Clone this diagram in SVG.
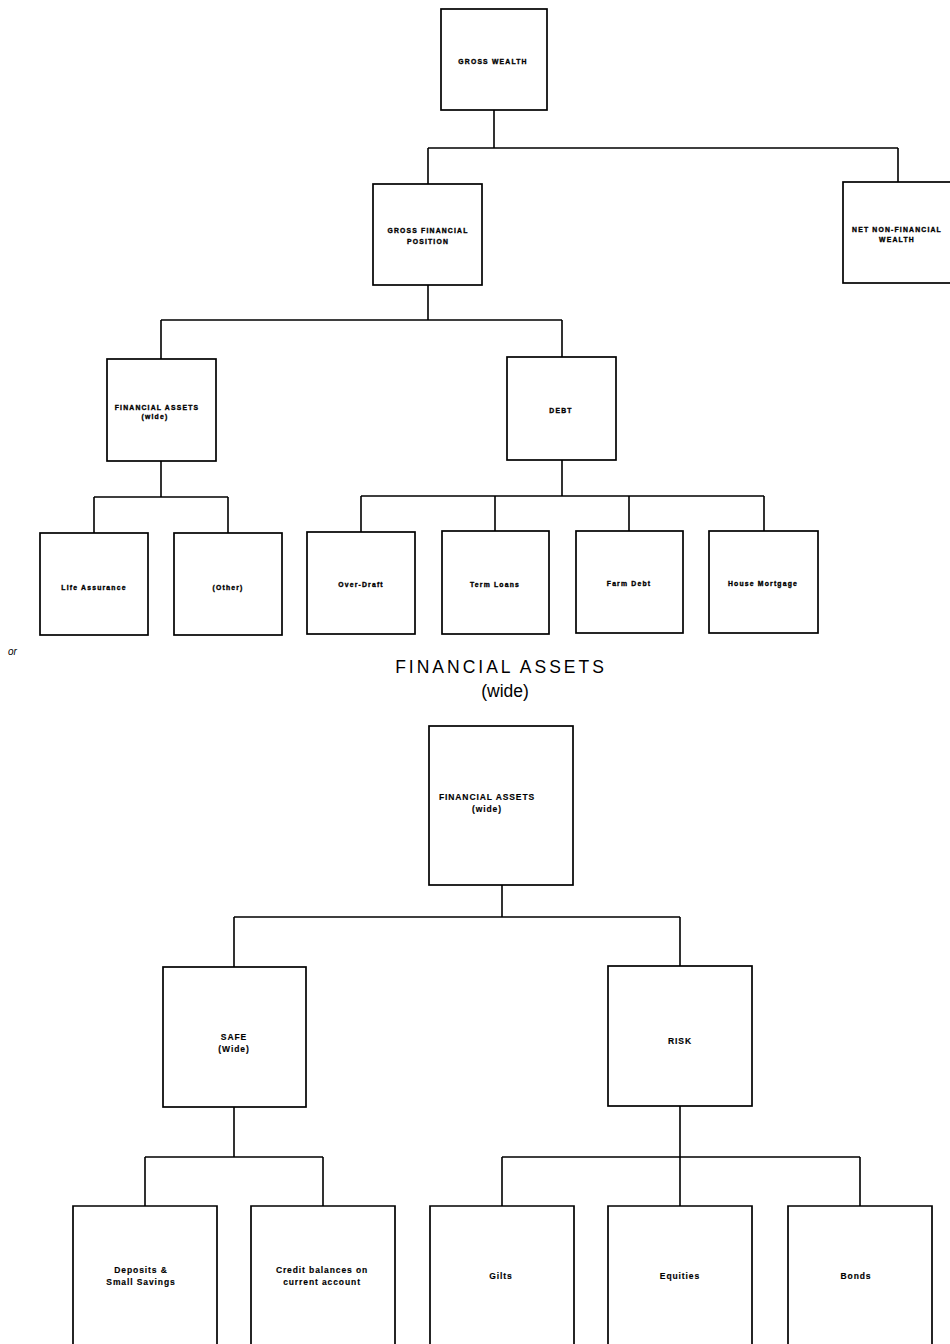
<svg xmlns="http://www.w3.org/2000/svg" width="950" height="1344" viewBox="0 0 950 1344">
<style>
.bg{fill:#ffffff}
.box{fill:#ffffff;stroke:#000;stroke-width:1.7}
.open{fill:none;stroke:#000;stroke-width:1.7}
.conn path{fill:none;stroke:#000;stroke-width:1.6}
.s{font-family:"Liberation Sans",Arial,sans-serif;font-weight:bold;font-size:6.8px;letter-spacing:1.2px;text-anchor:middle;fill:#000;stroke:#000;stroke-width:0.35}
.m{font-family:"Liberation Sans",Arial,sans-serif;font-weight:bold;font-size:8.5px;letter-spacing:0.9px;text-anchor:middle;fill:#000;stroke:#000;stroke-width:0.15}
.title{font-family:"Liberation Sans",Arial,sans-serif;font-size:17.5px;text-anchor:middle;fill:#000}
.or{font-family:"Liberation Sans",Arial,sans-serif;font-style:italic;font-size:10px;fill:#000}
</style>
<rect class="bg" x="0" y="0" width="950" height="1344"/>

<g id="connectors" class="conn">
<path d="M494 110V148M428 148H898M428 148V184M898 148V182"/>
<path d="M428 285V320M161 320H562M161 320V359M562 320V357"/>
<path d="M161 461V497M94 497H228M94 497V533M228 497V533"/>
<path d="M562 460V496M361 496H764M361 496V532M495 496V531M629 496V531M764 496V531"/>
<path d="M502 885V917M234 917H680M234 917V967M680 917V966"/>
<path d="M234 1107V1157M145 1157H323M145 1157V1206M323 1157V1206"/>
<path d="M680 1106V1157M502 1157H860M502 1157V1206M680 1157V1206M860 1157V1206"/>
</g>

<g id="gross-wealth"><rect class="box" x="441" y="9" width="106" height="101"/><text class="s" x="493" y="64">GROSS WEALTH</text></g>
<g id="gross-financial-position"><rect class="box" x="373" y="184" width="109" height="101"/><text class="s" x="428" y="233">GROSS FINANCIAL</text><text class="s" x="428" y="244">POSITION</text></g>
<g id="net-non-financial-wealth"><rect class="box" x="843" y="182" width="108" height="101"/><text class="s" x="897" y="232">NET NON-FINANCIAL</text><text class="s" x="897" y="242">WEALTH</text></g>
<g id="financial-assets-top"><rect class="box" x="107" y="359" width="109" height="102"/><text class="s" x="157" y="410">FINANCIAL ASSETS</text><text class="s" x="155" y="419">(wide)</text></g>
<g id="debt"><rect class="box" x="507" y="357" width="109" height="103"/><text class="s" x="561" y="413">DEBT</text></g>
<g id="life-assurance"><rect class="box" x="40" y="533" width="108" height="102"/><text class="s" x="94" y="590">Life Assurance</text></g>
<g id="other"><rect class="box" x="174" y="533" width="108" height="102"/><text class="s" x="228" y="590">(Other)</text></g>
<g id="over-draft"><rect class="box" x="307" y="532" width="108" height="102"/><text class="s" x="361" y="587">Over-Draft</text></g>
<g id="term-loans"><rect class="box" x="442" y="531" width="107" height="103"/><text class="s" x="495" y="587">Term Loans</text></g>
<g id="farm-debt"><rect class="box" x="576" y="531" width="107" height="102"/><text class="s" x="629" y="586">Farm Debt</text></g>
<g id="house-mortgage"><rect class="box" x="709" y="531" width="109" height="102"/><text class="s" x="763" y="586">House Mortgage</text></g>

<text class="or" x="8" y="655">or</text>

<g id="title"><text class="title" x="501" y="673" style="letter-spacing:3px">FINANCIAL ASSETS</text><text class="title" x="505" y="697">(wide)</text></g>

<g id="financial-assets"><rect class="box" x="429" y="726" width="144" height="159"/><text class="m" x="487" y="800">FINANCIAL ASSETS</text><text class="m" x="487" y="812">(wide)</text></g>
<g id="safe"><rect class="box" x="163" y="967" width="143" height="140"/><text class="m" x="234" y="1040">SAFE</text><text class="m" x="234" y="1052">(Wide)</text></g>
<g id="risk"><rect class="box" x="608" y="966" width="144" height="140"/><text class="m" x="680" y="1044">RISK</text></g>
<g id="deposits"><path class="open" d="M73 1344V1206H217V1344"/><text class="m" x="141" y="1273">Deposits &amp;</text><text class="m" x="141" y="1285">Small Savings</text></g>
<g id="credit-balances"><path class="open" d="M251 1344V1206H395V1344"/><text class="m" x="322" y="1273">Credit balances on</text><text class="m" x="322" y="1285">current account</text></g>
<g id="gilts"><path class="open" d="M430 1344V1206H574V1344"/><text class="m" x="501" y="1279">Gilts</text></g>
<g id="equities"><path class="open" d="M608 1344V1206H752V1344"/><text class="m" x="680" y="1279">Equities</text></g>
<g id="bonds"><path class="open" d="M788 1344V1206H932V1344"/><text class="m" x="856" y="1279">Bonds</text></g>
</svg>
